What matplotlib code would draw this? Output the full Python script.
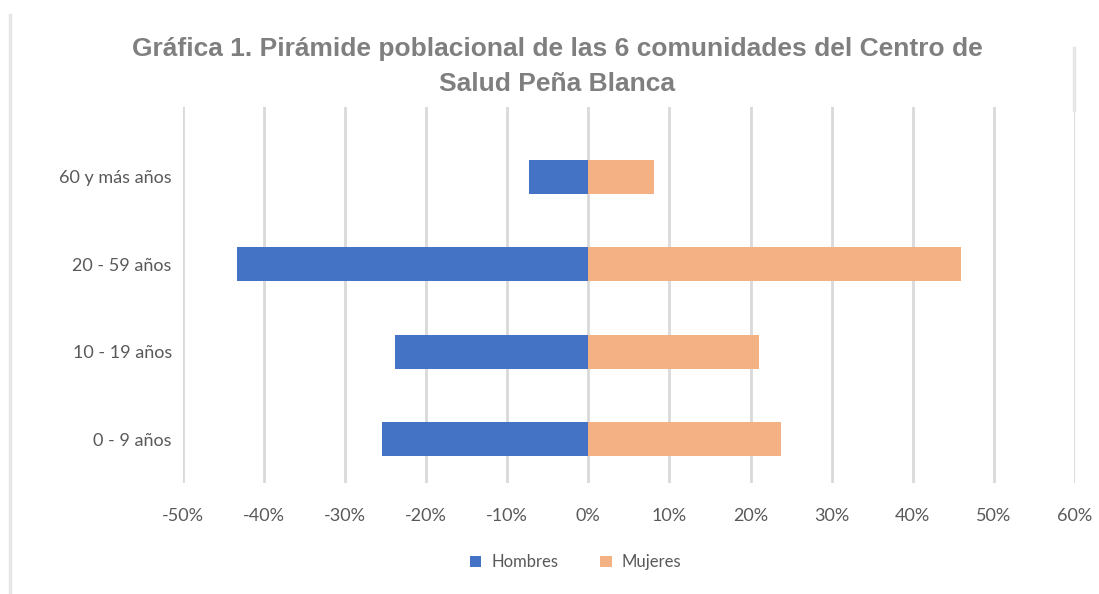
import numpy as np
import matplotlib.pyplot as plt
from matplotlib.lines import Line2D
from matplotlib.ticker import FuncFormatter

# ─── datos ───────────────────────────────────────────
grupos = ['0 - 9 años', '10 - 19 años', '20 - 59 años', '60 y más años']
hombres = [-25.5, -23.9, -43.3, -7.3]   # %
mujeres = [23.7, 21.1, 46.0, 8.1]       # %
xticks = np.arange(-50, 60 + 1, 10)

titulo = ('Gráfica 1. Pirámide poblacional de las 6 comunidades del Centro de\n'
          'Salud Peña Blanca')

c_hom = '#4472C4'
c_muj = '#F4B183'
c_txt = '#595959'
c_grid = '#D9D9D9'

# ─── figura ──────────────────────────────────────────
fig = plt.figure(figsize=(10.99, 5.94), dpi=100)
ax = fig.add_axes([0.1665, 0.187, 0.8115, 0.633])

y = np.arange(len(grupos))
ax.barh(y, hombres, height=0.39, color=c_hom, label='Hombres', zorder=3)
ax.barh(y, mujeres, height=0.39, color=c_muj, label='Mujeres', zorder=3)

ax.set_xlim(-50, 60)
ax.set_ylim(-0.5, 3.8)
ax.set_xticks(xticks)
ax.xaxis.set_major_formatter(FuncFormatter(lambda v, p: f'{v:.0f}%'))
ax.set_yticks(y)
ax.set_yticklabels(grupos)
ax.grid(axis='x', color=c_grid, lw=2, zorder=0)
ax.tick_params(axis='both', length=0, labelsize=13, labelcolor=c_txt,
               labelfontfamily='Lato')
ax.tick_params(axis='x', pad=18)
ax.tick_params(axis='y', pad=8)
for s in ax.spines.values():
    s.set_visible(False)

fig.text(0.507, 0.888, titulo, ha='center', va='center', fontsize=19,
         fontweight='bold', color='#7F7F7F', family='Liberation Sans',
         linespacing=1.55)

ax.legend(loc='upper center', bbox_to_anchor=(0.44, -0.15), ncol=2,
          frameon=False, handlelength=0.7, handleheight=0.7,
          handletextpad=0.6, columnspacing=2.5,
          prop={'family': 'Lato', 'size': 12}, labelcolor=c_txt)

# marco de la imagen original
fig.add_artist(Line2D([10 / 1099, 10 / 1099], [0, 1 - 15 / 594],
                      color='#E6E6E6', lw=2.5, transform=fig.transFigure))
fig.add_artist(Line2D([1074 / 1099, 1074 / 1099], [1 - 110 / 594, 1 - 48 / 594],
                      color='#E6E6E6', lw=2.5, transform=fig.transFigure))

plt.savefig('out.png', dpi=100)
